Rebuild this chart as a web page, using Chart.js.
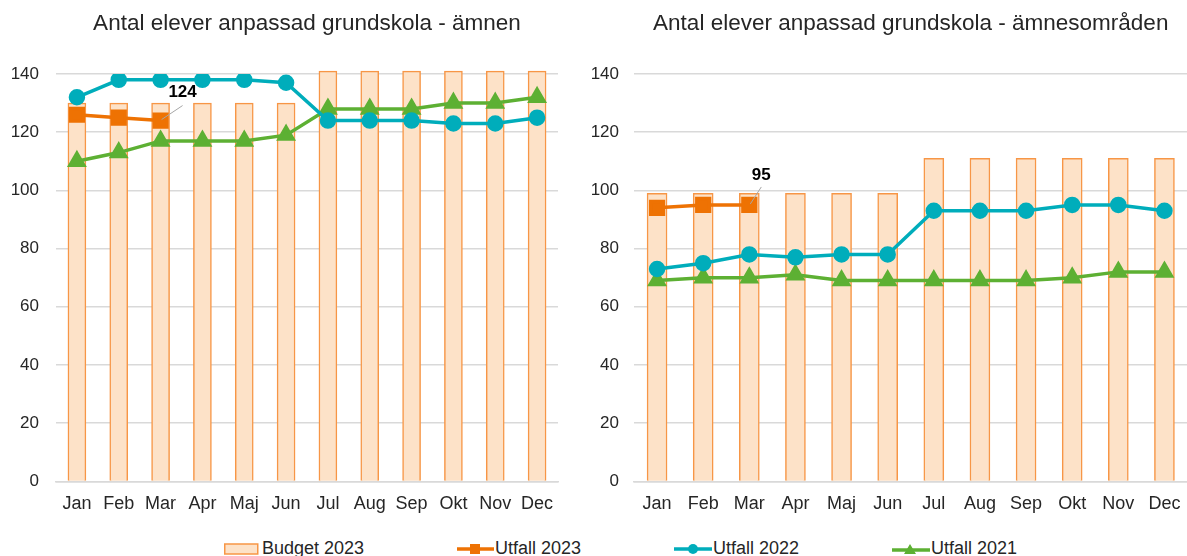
<!DOCTYPE html>
<html lang="sv">
<head>
  <meta charset="UTF-8">
  <title>Antal elever anpassad grundskola</title>
  <script src="https://cdn.jsdelivr.net/npm/chart.js"></script>
  <style>
    body {
      margin: 0;
      background: #ffffff;
      font-family: "Liberation Sans", Arial, sans-serif;
    }
    .wrap {
      position: relative;
      width: 1187px;
      height: 556px;
      overflow: hidden;
    }
    .box {
      position: absolute;
      top: 0;
      height: 528px;
    }
    #boxLeft { left: 0; width: 590px; }
    #boxRight { left: 590px; width: 610px; }
    .legend-item {
      position: absolute;
      top: 538px;
      height: 21px;
      font-size: 18px;
      line-height: 21px;
      color: #262626;
      display: flex;
      align-items: center;
      white-space: nowrap;
    }
    .legend-item svg { display: block; margin-right: 1px; }
  </style>
</head>
<body>
  <div class="wrap">
    <div class="box" id="boxLeft"><canvas id="chartLeft"></canvas></div>
    <div class="box" id="boxRight"><canvas id="chartRight"></canvas></div>

    <div class="legend-item" style="left:224px">
      <svg width="37" height="14"><rect x="0.75" y="2" width="33" height="10" fill="#fde2c8" stroke="#f79646" stroke-width="1.5"/></svg>
      <span>Budget 2023</span>
    </div>
    <div class="legend-item" style="left:457px">
      <svg width="37" height="14"><line x1="0" y1="7" x2="37" y2="7" stroke="#ee7203" stroke-width="3.5"/><rect x="13" y="2" width="10" height="10" fill="#ee7203"/></svg>
      <span>Utfall 2023</span>
    </div>
    <div class="legend-item" style="left:674px">
      <svg width="38" height="14"><line x1="0" y1="7" x2="38" y2="7" stroke="#00adbb" stroke-width="3.5"/><circle cx="19" cy="7" r="5" fill="#00adbb"/></svg>
      <span>Utfall 2022</span>
    </div>
    <div class="legend-item" style="left:892px">
      <svg width="38" height="14"><line x1="0" y1="8" x2="38" y2="8" stroke="#5db033" stroke-width="3.5"/><polygon points="18,2 24,12 12,12" fill="#5db033"/></svg>
      <span>Utfall 2021</span>
    </div>
  </div>

  <script>
    const months = ['Jan', 'Feb', 'Mar', 'Apr', 'Maj', 'Jun', 'Jul', 'Aug', 'Sep', 'Okt', 'Nov', 'Dec'];
    const yTicks = [0, 20, 40, 60, 80, 100, 120, 140];

    // ämnen
    const budgetAmnen = [130, 130, 130, 130, 130, 130, 141, 141, 141, 141, 141, 141];
    const utfall2023Amnen = [126, 125, 124];
    const utfall2022Amnen = [132, 138, 138, 138, 138, 137, 124, 124, 124, 123, 123, 125];
    const utfall2021Amnen = [110, 113, 117, 117, 117, 119, 128, 128, 128, 130, 130, 132];

    // ämnesområden
    const budgetOmr = [99, 99, 99, 99, 99, 99, 111, 111, 111, 111, 111, 111];
    const utfall2023Omr = [94, 95, 95];
    const utfall2022Omr = [73, 75, 78, 77, 78, 78, 93, 93, 93, 95, 95, 93];
    const utfall2021Omr = [69, 70, 70, 71, 69, 69, 69, 69, 69, 70, 72, 72];

    const textColor = '#262626';
    const fontFamily = '"Liberation Sans", Arial, sans-serif';

    // label on the last Utfall 2023 point, with a small leader line
    const lastLabel = {
      id: 'lastLabel',
      afterDatasetsDraw(chart, args, opts) {
        const meta = chart.getDatasetMeta(0);
        const data = chart.data.datasets[0].data;
        const i = data.length - 1;
        const pt = meta.data[i];
        if (!pt) return;
        const ctx = chart.ctx;
        ctx.save();
        ctx.strokeStyle = '#a6a6a6';
        ctx.lineWidth = 1;
        ctx.beginPath();
        ctx.moveTo(pt.x + 1, pt.y - 1);
        ctx.lineTo(pt.x + opts.lx, pt.y + opts.ly);
        ctx.stroke();
        ctx.fillStyle = '#000000';
        ctx.font = 'bold 17px ' + fontFamily;
        ctx.textAlign = 'center';
        ctx.textBaseline = 'middle';
        ctx.fillText(String(data[i]), pt.x + opts.dx, pt.y + opts.dy);
        ctx.restore();
      }
    };

    function makeChart(id, title, budget, u23, u22, u21, yWidth, yPad, padRight, barW, labelOpts) {
      return new Chart(document.getElementById(id), {
        type: 'bar',
        data: {
          labels: months,
          datasets: [
            {
              type: 'line',
              label: 'Utfall 2023',
              data: u23,
              borderColor: '#ee7203',
              backgroundColor: '#ee7203',
              borderWidth: 3.5,
              pointStyle: 'rect',
              pointRadius: 9,
              pointHoverRadius: 9,
              order: 1
            },
            {
              type: 'line',
              label: 'Utfall 2022',
              data: u22,
              borderColor: '#00adbb',
              backgroundColor: '#00adbb',
              borderWidth: 3.5,
              pointStyle: 'circle',
              pointRadius: 6.5,
              pointHoverRadius: 6.5,
              order: 2
            },
            {
              type: 'line',
              label: 'Utfall 2021',
              data: u21,
              borderColor: '#5db033',
              backgroundColor: '#5db033',
              borderWidth: 3.5,
              pointStyle: 'triangle',
              pointRadius: 8,
              pointHoverRadius: 8,
              order: 3
            },
            {
              label: 'Budget 2023',
              data: budget,
              backgroundColor: '#fde2c8',
              borderColor: '#f79646',
              borderWidth: 1.5,
              barThickness: barW,
              clip: false,
              order: 5
            }
          ]
        },
        options: {
          responsive: true,
          maintainAspectRatio: false,
          animation: false,
          layout: { padding: { top: 0, right: padRight, bottom: 1, left: 0 } },
          plugins: {
            legend: { display: false },
            tooltip: { enabled: false },
            title: {
              display: true,
              text: title,
              color: textColor,
              fullSize: false,
              font: { family: fontFamily, size: 22.5, weight: 'normal' },
              padding: { top: 10, bottom: 37 }
            },
            lastLabel: labelOpts
          },
          scales: {
            x: {
              grid: { display: false, drawTicks: false },
              border: { color: '#d9d9d9', width: 1.5 },
              ticks: { color: textColor, font: { family: fontFamily, size: 18 }, padding: 12, maxRotation: 0 }
            },
            y: {
              min: 0,
              max: 140,
              afterBuildTicks: s => { s.ticks = yTicks.map(v => ({ value: v })); },
              afterFit: s => { s.width = yWidth; },
              grid: { color: '#d9d9d9', lineWidth: 1.5, drawTicks: false },
              border: { display: false },
              ticks: { color: textColor, font: { family: fontFamily, size: 17 }, padding: yPad }
            }
          }
        },
        plugins: [lastLabel]
      });
    }

    makeChart('chartLeft', 'Antal elever anpassad grundskola - ämnen',
      budgetAmnen, utfall2023Amnen, utfall2022Amnen, utfall2021Amnen,
      56, 17, 32, 18, { dx: 22, dy: -28, lx: 22, ly: -15 });

    makeChart('chartRight', 'Antal elever anpassad grundskola - ämnesområden',
      budgetOmr, utfall2023Omr, utfall2022Omr, utfall2021Omr,
      44, 15, 0, 20, { dx: 12, dy: -30, lx: 12, ly: -18 });
  </script>
</body>
</html>
